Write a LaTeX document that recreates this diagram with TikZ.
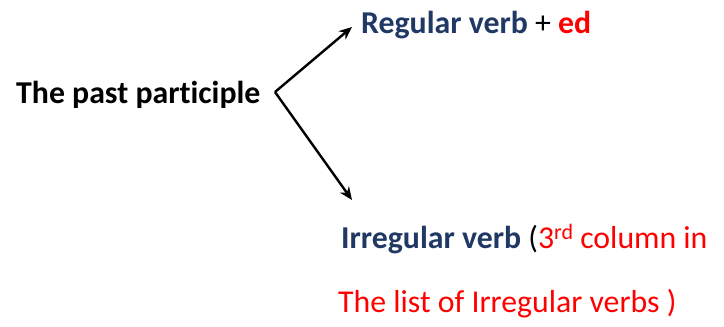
\documentclass[tikz,border=0pt]{standalone}
\usepackage{fontspec}
\setmainfont{Carlito}[Ligatures=NoCommon]
\usepackage{tikz}
\usetikzlibrary{arrows.meta}
\definecolor{navy}{HTML}{1F3864}

\begin{document}
\begin{tikzpicture}[x=1pt,y=-1pt,
	word/.style={anchor=base west,inner sep=0pt,font=\fontsize{31.8}{38}\selectfont},
	>={Stealth[length=13pt,width=11pt]},line width=2.4pt]
	\useasboundingbox (0,0) rectangle (724,327);
	\node[word] (past) at (15,103) {\bfseries The past participle};
	\node[word] (regular) at (360,33) {\textbf{\color{navy}Regular verb} + \textbf{\color{red}ed}};
	\node[word] (irregular) at (340,248) {\textbf{\color{navy}Irregular verb} (\color{red}3\raisebox{9pt}{\fontsize{22}{24}\selectfont rd} column in};
	\node[word,text=red] (list) at (337,312) {The list of Irregular verbs )};
	
	\coordinate (fork) at (275,92);
	\coordinate (up) at (352,27);
	\coordinate (down) at (352,200);
	\draw[->] (fork) -- (up);
	\draw[->] (fork) -- (down);
\end{tikzpicture}
\end{document}
